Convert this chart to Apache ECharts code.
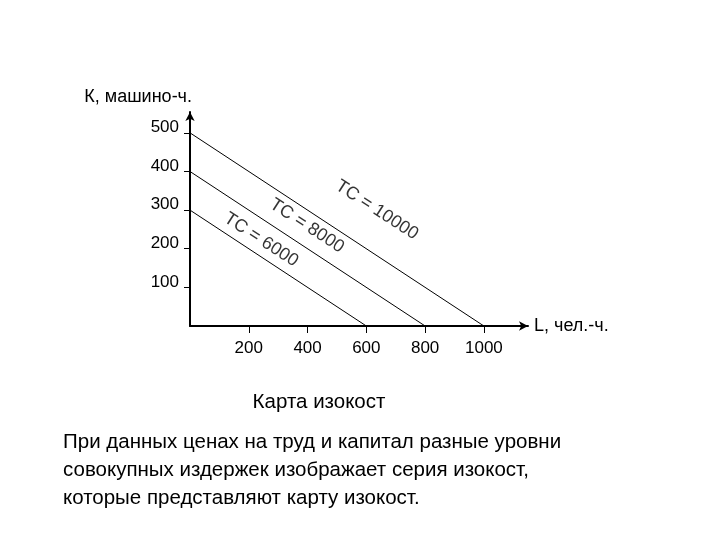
<!DOCTYPE html>
<html>
<head>
<meta charset="utf-8">
<script src="https://cdn.jsdelivr.net/npm/echarts@6/dist/echarts.min.js"></script>
<style>
html,body{margin:0;padding:0;background:#fff;}
#chart{width:720px;height:540px;}
</style>
</head>
<body>
<div id="chart"></div>
<script>
// ---- data ----
var tcLevels = [6000, 8000, 10000];
var kIntercepts = [300, 400, 500];   // K at L = 0
var lIntercepts = [600, 800, 1000];  // L at K = 0
var xTicks = [200, 400, 600, 800, 1000];
var yTicks = [100, 200, 300, 400, 500];
// label anchor points (data units) for "TC = ..." captions
var labelL = [242, 398, 636];
var labelK = [223, 259, 300];
var xName = 'L, чел.-ч.';
var yName = 'К, машино-ч.';
var captionTitle = 'Карта изокост';
var captionLines = [
  'При данных ценах на труд и капитал разные уровни',
  'совокупных издержек изображает серия изокост,',
  'которые представляют карту изокост.'
];

var FONT = "'Liberation Sans', Arial, sans-serif";
var chart = echarts.init(document.getElementById('chart'));

var series = [];
tcLevels.forEach(function (tc, i) {
  series.push({
    type: 'line',
    name: 'TC = ' + tc,
    data: [[0, kIntercepts[i]], [lIntercepts[i], 0]],
    symbol: 'none',
    lineStyle: { color: '#000', width: 1 },
    silent: true,
    z: 3
  });
});
series.push({
  type: 'scatter',
  data: tcLevels.map(function (tc, i) { return [labelL[i], labelK[i], tc]; }),
  symbolSize: 0,
  silent: true,
  label: {
    show: true,
    position: 'inside',
    formatter: function (p) { return 'TC = ' + p.value[2]; },
    rotate: -33,
    color: '#000',
    fontSize: 18,
    fontFamily: FONT
  }
});

var plain = function (v) { return String(v); };

var option = {
  backgroundColor: '#fff',
  animation: false,
  grid: { left: 190, top: 112, width: 338, height: 214, containLabel: false },
  xAxis: {
    type: 'value', min: 0, max: 1150,
    name: xName, nameLocation: 'end', nameGap: 6,
    nameTextStyle: { color: '#000', fontSize: 18, fontFamily: FONT, padding: [3, 0, 0, 0] },
    splitLine: { show: false },
    axisLine: { show: true, lineStyle: { color: '#000', width: 2 }, symbol: ['none', 'arrow'], symbolSize: [7, 9] },
    axisTick: { show: true, customValues: xTicks, length: 7, lineStyle: { color: '#000', width: 1 } },
    axisLabel: { customValues: xTicks, formatter: plain, color: '#000', fontSize: 17, fontFamily: FONT, margin: 14 }
  },
  yAxis: {
    type: 'value', min: 0, max: 554,
    name: yName, nameLocation: 'end', nameGap: 6,
    nameTextStyle: { color: '#000', fontSize: 18, fontFamily: FONT, align: 'right', padding: [0, -2, 0, 0] },
    splitLine: { show: false },
    axisLine: { show: true, lineStyle: { color: '#000', width: 2 }, symbol: ['none', 'arrow'], symbolSize: [7, 9] },
    axisTick: { show: true, customValues: yTicks, length: 6, lineStyle: { color: '#000', width: 1 } },
    axisLabel: { customValues: yTicks, formatter: plain, color: '#000', fontSize: 17, fontFamily: FONT, margin: 11, verticalAlign: 'bottom', padding: [0, 0, -3, 0] }
  },
  series: series,
  graphic: [
    {
      type: 'text', x: 319, y: 402,
      style: { text: captionTitle, fill: '#000', font: '20.5px ' + FONT, align: 'center', verticalAlign: 'middle' }
    }
  ].concat(captionLines.map(function (t, i) {
    return {
      type: 'text', x: 63, y: 442 + i * 28,
      style: { text: t, fill: '#000', font: '20.5px ' + FONT, align: 'left', verticalAlign: 'middle' }
    };
  }))
};
chart.setOption(option);
</script>
</body>
</html>
